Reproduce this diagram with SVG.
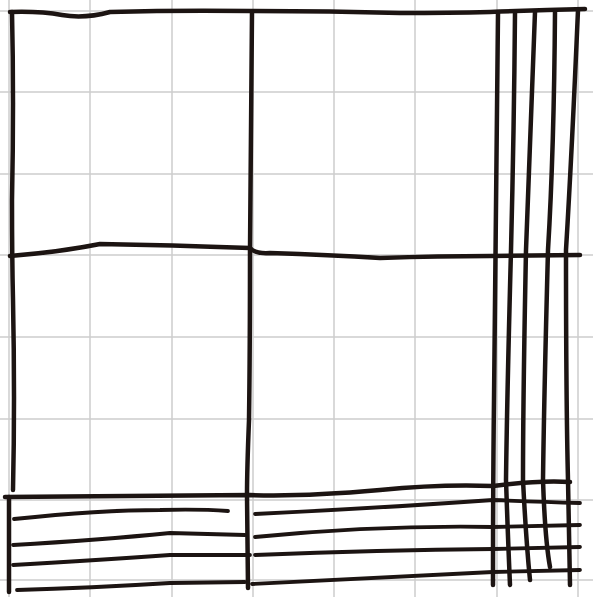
<svg xmlns="http://www.w3.org/2000/svg" width="593" height="597" viewBox="0 0 593 597">
<style>
.g{stroke:#cdcdcd;stroke-width:1.5;fill:none}
.k{stroke:#1c1412;stroke-width:4.5;fill:none;stroke-linecap:round;stroke-linejoin:round}
.t{stroke:#1c1412;stroke-width:3.8;fill:none;stroke-linecap:round;stroke-linejoin:round}
</style>
<rect width="593" height="597" fill="#ffffff"/>
<g id="paper">
<path class="g" d="M9 0V597M90 0V597M172 0V597M253 0V597M334 0V597M415 0V597M497 0V597M578 0V597"/>
<path class="g" d="M0 11H593M0 92H593M0 174H593M0 255H593M0 337H593M0 419H593M0 500H593M0 580H593"/>
</g>
<g id="frame">
<path class="k" d="M10 12 Q40 11 62 15 T110 12 Q180 10 250 11 Q330 11 400 13 Q450 13 490 12 Q540 10 585 9"/>
<path class="k" d="M12 12 Q14 100 12 200 Q12 256 13 300 Q15 400 13 490"/>
<path class="k" d="M252 12 Q251 120 250 250 Q250 350 249 420 Q247 470 247 495 L248 588"/>
<path class="k" d="M10 256 Q60 252 100 244 Q170 245 250 248 Q255 254 270 253 Q330 255 380 258 Q440 256 490 256 L580 255"/>
</g>
<g id="right-bundle">
<path class="k" d="M498 13 Q495 250 494 400 Q493 480 493 585"/>
<path class="k" d="M515 13 Q514 130 511 250 Q507 400 506 480 Q508 540 510 585"/>
<path class="k" d="M535 12 Q530 150 526 250 Q523 400 523 480 Q526 540 530 580"/>
<path class="k" d="M555 12 Q554 150 548 250 Q544 400 543 480 Q545 540 550 567"/>
<path class="k" d="M578 10 Q572 150 566 250 Q566 400 568 480 L570 585"/>
</g>
<g id="bottom-strip">
<path class="k" d="M9 497 L9 592"/>
<path class="k" d="M5 497 Q130 496 250 495 Q300 497 380 490 Q440 484 493 486 Q540 480 570 482"/>
<path class="t" d="M14 519 Q100 510 160 510 Q200 509 228 511"/>
<path class="t" d="M13 545 Q100 540 170 533 Q210 534 245 535"/>
<path class="t" d="M13 565 Q100 560 170 555 L250 555"/>
<path class="t" d="M17 590 Q90 588 170 583 L245 582"/>
<path class="t" d="M255 514 Q380 508 493 500 Q540 502 580 503"/>
<path class="t" d="M255 537 Q380 525 493 527 L580 525"/>
<path class="t" d="M255 555 Q380 550 493 549 L580 547"/>
<path class="t" d="M252 584 Q380 578 493 572 L580 570"/>
</g>
</svg>
